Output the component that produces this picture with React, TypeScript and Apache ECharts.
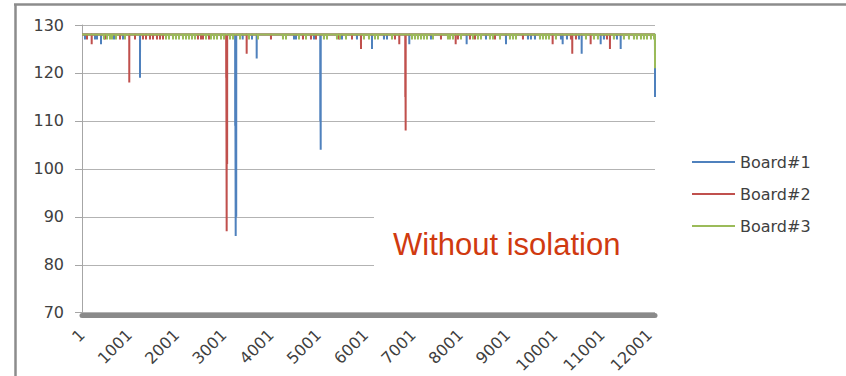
import React, { useEffect, useRef } from "react";
import * as echarts from "echarts";

// x positions are 0-based sample offsets; axis labels show offset + 1
const X_MAX = 12120;
const BASELINE = 128;
const SERIES_NAMES = ["Board#1", "Board#2", "Board#3"];
const SERIES_COLORS = ["#4F81BD", "#C0504D", "#9BBB59"];
const Y_MIN = 70;
const Y_MAX = 130;
const Y_STEP = 10;
const X_STEP = 1000;

// dips below the 128 baseline: [sample offset, value]
const board1Dips: [number, number][] = [
  [63, 127], [275, 127], [317, 127], [402, 126], [677, 127], [867, 127],
  [1227, 119], [3240, 109], [3251, 86], [3262, 90], [3399, 127], [3596, 127],
  [3695, 123], [4484, 127], [4526, 127], [4907, 127], [5040, 110], [5049, 104],
  [5499, 127], [5816, 127], [6134, 125], [6387, 127], [6451, 127], [6923, 126],
  [7381, 127], [8136, 126], [8545, 127], [8968, 126], [9433, 127], [9496, 127],
  [9581, 127], [10131, 127], [10167, 126], [10258, 127], [10512, 127],
  [10569, 124], [10971, 126], [11040, 127], [11315, 127], [11394, 125],
  [12120, 115],
];

const board2Dips: [number, number][] = [
  [106, 127], [205, 126], [486, 127], [804, 127], [1000, 118], [1121, 127],
  [1290, 127], [1354, 127], [1438, 127], [1502, 127], [1586, 127], [1650, 127],
  [1713, 127], [2453, 127], [2517, 127], [2559, 127], [2686, 127], [3050, 119],
  [3060, 87], [3070, 101], [3483, 124], [3997, 127], [4674, 127], [4843, 127],
  [4949, 127], [5436, 127], [5711, 127], [5901, 125], [6620, 127], [6711, 126],
  [6838, 115], [6846, 108], [7593, 127], [7904, 126], [7952, 127], [8206, 127],
  [8312, 127], [8735, 127], [9327, 127], [9955, 126], [10342, 127],
  [10370, 124], [10448, 127], [10759, 126], [11104, 127], [11167, 125],
];

const board3Dips: [number, number][] = [
  [465, 127], [529, 127], [592, 127], [635, 127], [719, 127], [909, 127],
  [1777, 127], [1840, 127], [1925, 127], [1988, 127], [2052, 127], [2136, 127],
  [2200, 127], [2263, 127], [2327, 127], [2390, 127], [2623, 127], [2728, 127],
  [2792, 127], [2855, 127], [2940, 127], [3003, 127], [3130, 127], [3194, 127],
  [3342, 127], [3532, 127], [3722, 127], [4251, 127], [4315, 127], [4590, 127],
  [4738, 127], [5118, 127], [5182, 127], [5393, 127], [5457, 127], [5584, 127],
  [5964, 127], [6070, 127], [6197, 127], [6261, 127], [6557, 127], [6980, 127],
  [7043, 127], [7106, 127], [7170, 127], [7233, 127], [7297, 127], [7424, 127],
  [7741, 127], [7783, 127], [7847, 127], [8016, 127], [8270, 127], [8375, 127],
  [8439, 127], [8629, 127], [8693, 127], [8841, 127], [9052, 127], [9116, 127],
  [9179, 127], [9687, 127], [9750, 127], [9814, 127], [9877, 127], [10025, 127],
  [10660, 127], [10829, 127], [10913, 127], [11251, 127], [11463, 127],
  [11569, 127], [11675, 127], [11738, 127], [11823, 127], [11886, 127],
  [11950, 127], [12034, 127], [12100, 127], [12120, 121],
];

function toLine(dips: [number, number][]): [number, number][] {
  const pts: [number, number][] = [[0, BASELINE]];
  const sorted = [...dips].sort((a, b) => a[0] - b[0]);
  for (const [i, v] of sorted) {
    pts.push([i - 1, BASELINE], [i, v]);
    if (i < X_MAX) pts.push([i + 1, BASELINE]);
  }
  if (sorted[sorted.length - 1][0] < X_MAX) pts.push([X_MAX, BASELINE]);
  return pts;
}

const ALL_DIPS = [board1Dips, board2Dips, board3Dips];

export default function App() {
  const ref = useRef<HTMLDivElement>(null);
  useEffect(() => {
    if (!ref.current) return;
    const chart = echarts.init(ref.current, undefined, { renderer: "svg" });
    const font = "DejaVu Sans";
    chart.setOption({
      animation: false,
      backgroundColor: "#ffffff",
      grid: { left: 82, right: 191, top: 25, bottom: 63, containLabel: false },
      legend: {
        orient: "vertical",
        left: 692,
        top: 154,
        padding: 0,
        icon: "rect",
        itemWidth: 43,
        itemHeight: 2,
        itemGap: 16,
        textStyle: { fontFamily: font, fontSize: 16, color: "#404040" },
        data: SERIES_NAMES,
      },
      xAxis: {
        type: "value",
        min: 0,
        max: X_MAX,
        interval: X_STEP,
        offset: 2.5,
        splitLine: { show: false },
        axisTick: { show: false },
        axisLine: { show: true, lineStyle: { color: "#8a8a8a", width: 5 } },
        axisLabel: {
          rotate: 45,
          margin: 17,
          showMaxLabel: false,
          fontFamily: font,
          fontSize: 16,
          color: "#404040",
          formatter: (v: number) => String(v + 1),
        },
      },
      yAxis: {
        type: "value",
        min: Y_MIN,
        max: Y_MAX,
        interval: Y_STEP,
        axisLine: { show: true, lineStyle: { color: "#a6a6a6", width: 1 } },
        axisTick: { show: true, length: 7, lineStyle: { color: "#a6a6a6" } },
        splitLine: { show: true, lineStyle: { color: "#b3b3b3", width: 1 } },
        axisLabel: { margin: 18, fontFamily: font, fontSize: 16, color: "#404040" },
      },
      series: SERIES_NAMES.map((name, k) => ({
        name,
        type: "line",
        data: toLine(ALL_DIPS[k]),
        showSymbol: false,
        symbol: "none",
        color: SERIES_COLORS[k],
        lineStyle: { width: 2, color: SERIES_COLORS[k] },
        z: 2 + k,
      })),
      graphic: [
        {
          type: "line",
          z: 100,
          shape: { x1: 14, y1: 4.5, x2: 846, y2: 4.5 },
          style: { stroke: "#8c8c8c", lineWidth: 2.5 },
        },
        {
          type: "line",
          z: 100,
          shape: { x1: 15.5, y1: 4, x2: 15.5, y2: 376 },
          style: { stroke: "#8c8c8c", lineWidth: 2.5 },
        },
        {
          type: "rect",
          z: 50,
          shape: { x: 374, y: 185, width: 290, height: 110 },
          style: { fill: "#ffffff" },
        },
        {
          type: "text",
          z: 51,
          x: 393,
          y: 244,
          style: {
            text: "Without isolation",
            font: '31px "Liberation Sans"',
            fill: "#D03A10",
            verticalAlign: "middle",
            align: "left",
          },
        },
      ],
    });
    return () => chart.dispose();
  }, []);
  return (
    <div
      ref={ref}
      style={{ position: "fixed", left: 0, top: 0, width: 846, height: 376 }}
    />
  );
}
